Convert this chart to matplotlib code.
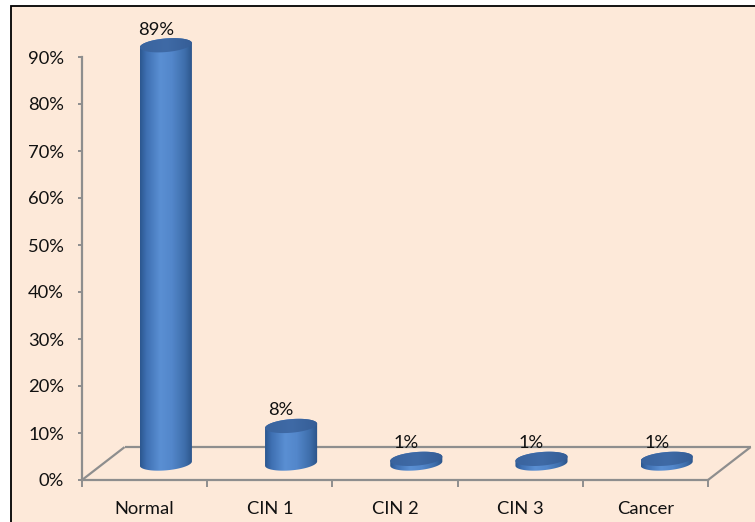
import numpy as np
import matplotlib
matplotlib.use("Agg")
from matplotlib import pyplot as plt
from matplotlib.patches import Rectangle, Polygon
from matplotlib.colors import LinearSegmentedColormap

# data
categories = ["Normal", "CIN 1", "CIN 2", "CIN 3", "Cancer"]
values = [89, 8, 1, 1, 1]
y_ticks = list(range(0, 91, 10))

plt.rcParams['font.family'] = ['Lato', 'DejaVu Sans']
plt.rcParams['font.size'] = 13.2

bg_color = '#FDE9D9'
grid_gray = '#8e8e8e'
text_color = '#111111'

# 3d look (in data units)
depth_x = 0.34
depth_y = 7.0
half_w = 0.208
ell_h = 1.45
shear = 0.45

body_cmap = LinearSegmentedColormap.from_list(
    'cyl', [(0.0, '#2c5790'), (0.12, '#3f70b2'), (0.38, '#5a8fd3'),
            (0.6, '#5387cb'), (0.85, '#3e6eab'), (1.0, '#2b5388')])
cap_cmap = LinearSegmentedColormap.from_list(
    'cap', [(0.0, '#3a649e'), (0.5, '#3f6aa6'), (1.0, '#355d96')])

fig = plt.figure(figsize=(7.55, 5.22), dpi=100)
fig.patch.set_facecolor('white')
frame = Rectangle((10.5 / 755, -0.1), 1.2, 1.1 - 5.5 / 522, transform=fig.transFigure,
                  facecolor=bg_color, edgecolor='black', linewidth=1.3, zorder=-10)
fig.add_artist(frame)

ax = fig.add_axes([82 / 755, 42 / 522, 626 / 755, 470 / 522])
ax.set_facecolor('none')
ax.set_zorder(5)


def ellipse_pts(cx, cy, t):
    return np.column_stack([cx + half_w * np.cos(t),
                            cy + ell_h * np.sin(t) + shear * np.cos(t)])


def cylinder(i, v, z):
    cx = i + depth_x / 2
    yb = depth_y / 2
    yt = v + depth_y / 2
    bottom = ellipse_pts(cx, yb, np.linspace(np.pi, 2 * np.pi, 60))
    top = ellipse_pts(cx, yt, np.linspace(0, np.pi, 60))
    body = Polygon(np.vstack([bottom, top]), closed=True, facecolor='none',
                   edgecolor='none', zorder=z)
    ax.add_patch(body)
    grad = np.linspace(0, 1, 200).reshape(1, -1)
    im = ax.imshow(grad, cmap=body_cmap, aspect='auto', interpolation='bilinear',
                   extent=(cx - half_w, cx + half_w, yb - ell_h - shear, yt + ell_h + shear),
                   zorder=z)
    im.set_clip_path(body)
    cap = Polygon(ellipse_pts(cx, yt, np.linspace(0, 2 * np.pi, 120)), closed=True,
                  facecolor='none', edgecolor='none', zorder=z + 0.1)
    ax.add_patch(cap)
    im2 = ax.imshow(grad, cmap=cap_cmap, aspect='auto', interpolation='bilinear',
                    extent=(cx - half_w, cx + half_w, yt - ell_h - shear, yt + ell_h + shear),
                    zorder=z + 0.1)
    im2.set_clip_path(cap)
    ax.text(i + 0.09, yt + ell_h + 0.8, f"{v}%", ha='center', va='baseline',
            color=text_color, zorder=z + 0.2)


# floor
x0, x1 = -0.5, len(categories) - 0.5
floor_kw = dict(color=grid_gray, linewidth=1.6, clip_on=False, zorder=1,
                solid_capstyle='butt')
ax.plot([x0, x0 + depth_x], [0, depth_y], **floor_kw)
ax.plot([x0 + depth_x, x1 + depth_x], [depth_y, depth_y], **floor_kw)
ax.plot([x1, x1 + depth_x], [0, depth_y], **floor_kw)

for i, v in enumerate(values):
    cylinder(i, v, 3 + i)

ax.set_xlim(x0, x1)
ax.set_ylim(0, 100)

for s in ['top', 'right']:
    ax.spines[s].set_visible(False)
for s in ['left', 'bottom']:
    ax.spines[s].set_color(grid_gray)
    ax.spines[s].set_linewidth(1.6)
ax.spines['left'].set_bounds(0, 90)

ax.set_yticks(y_ticks)
ax.set_yticklabels([f"{t}%" for t in y_ticks])
ax.tick_params(axis='y', direction='out', length=3, width=1.4, color=grid_gray,
               pad=10, labelcolor=text_color)

ax.set_xticks(range(len(categories)))
ax.set_xticklabels(categories)
ax.set_xticks(np.arange(x0, x1 + 0.01, 1), minor=True)
ax.tick_params(axis='x', which='major', length=0, pad=15, labelcolor=text_color)
ax.tick_params(axis='x', which='minor', direction='out', length=5, width=1.4,
               color=grid_gray)

fig.savefig('out.png', dpi=100, facecolor='white')
plt.close(fig)
